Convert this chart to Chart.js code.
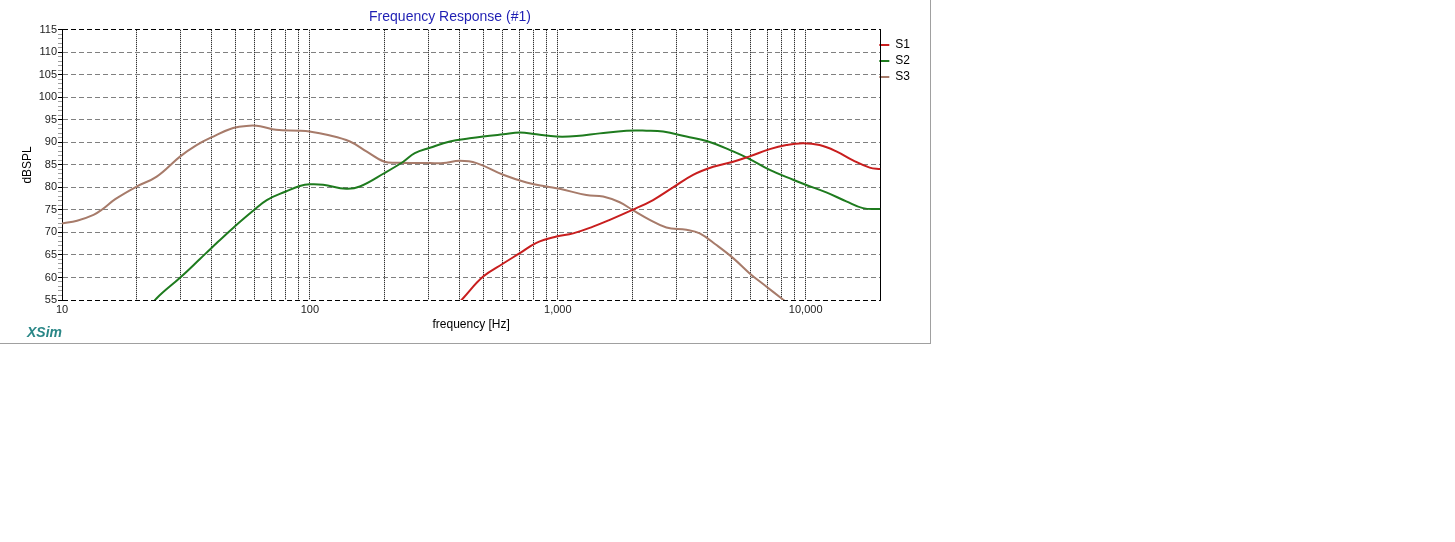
<!DOCTYPE html>
<html>
<head>
<meta charset="utf-8">
<title>Frequency Response (#1)</title>
<script src="https://cdn.jsdelivr.net/npm/chart.js@4.4.1/dist/chart.umd.min.js"></script>
<style>
  body { margin: 0; background: #fff; }
  #frame { position: absolute; left: 0; top: 0; width: 930px; height: 343px;
           border-right: 1px solid #a0a0a0; border-bottom: 1px solid #a0a0a0; }
  #brand { position: absolute; left: 27px; top: 324px; color: #2a8787;
           font: italic bold 14px "Liberation Sans", Arial, sans-serif; }
</style>
</head>
<body>
<div id="frame">
  <canvas id="fr" width="930" height="343"></canvas>
  <div id="brand">XSim</div>
</div>
<script>
// S1 (red)
const s1Freq = [380, 415, 500, 602, 703, 820, 988, 1153, 1387, 1621, 2000, 2423, 2917, 3513, 4237, 5097, 5943, 7161, 8356, 9756, 11370, 13290, 15520, 18120, 20000];
const s1Spl  = [53.1, 55.4, 60.2, 63.1, 65.4, 67.7, 69.1, 69.8, 71.3, 72.8, 75.0, 77.2, 80.0, 82.8, 84.6, 85.7, 86.9, 88.5, 89.4, 89.8, 89.4, 88.0, 86.0, 84.4, 84.1];

// S2 (green)
const s2Freq = [22, 24.1, 30, 36, 40, 49, 59, 67, 80, 91, 100, 113, 140, 159, 200, 238, 265, 305, 367, 441, 500, 602, 703, 820, 988, 1189, 1476, 1892, 2278, 2660, 3303, 3981, 5097, 5943, 7161, 8896, 10000, 12110, 14580, 17010, 20000];
const s2Spl  = [52.6, 55.4, 60.0, 64.1, 66.5, 71.0, 74.8, 77.2, 79.1, 80.3, 80.7, 80.6, 79.7, 80.2, 83.2, 85.7, 87.6, 88.8, 90.2, 90.9, 91.3, 91.8, 92.2, 91.8, 91.3, 91.4, 92.0, 92.6, 92.6, 92.4, 91.3, 90.3, 88.0, 86.3, 83.9, 81.7, 80.6, 78.9, 76.9, 75.4, 75.2];

// S3 (brown)
const s3Freq = [10, 11.5, 13.4, 14.6, 16.4, 20, 24.1, 30, 34.9, 40, 49, 57, 63, 73, 91, 100, 117, 145, 169, 200, 231, 305, 345, 402, 470, 602, 748, 900, 1018, 1305, 1524, 1778, 2000, 2349, 2742, 3303, 3738, 4365, 5097, 5943, 6932, 7975, 9000];
const s3Spl  = [72.0, 72.6, 73.9, 75.2, 77.4, 80.2, 82.4, 86.9, 89.4, 91.1, 93.2, 93.7, 93.6, 92.8, 92.6, 92.4, 91.7, 90.2, 88.0, 85.7, 85.5, 85.4, 85.4, 85.9, 85.4, 82.8, 81.1, 80.2, 79.7, 78.3, 78.0, 76.7, 75.0, 72.8, 71.1, 70.6, 69.8, 67.2, 64.3, 60.9, 58.0, 55.4, 53.1];

// axis ticks
const xDecades = [10, 100, 1000, 10000];
const xMax = 20000;
const yMin = 55, yMax = 115, yLabelStep = 5;

const FONT = '"Liberation Sans", Arial, sans-serif';

// every 1..9 step of each decade gets a dotted line
let xGrid = [];
xDecades.forEach(function (d) {
  for (let m = 1; m <= 9; m++) {
    if (d * m <= xMax) xGrid.push(d * m);
  }
});

function points(fs, vs) {
  return fs.map(function (f, i) { return { x: f, y: vs[i] }; });
}

function series(label, fs, vs, color) {
  return {
    label: label,
    data: points(fs, vs),
    borderColor: color,
    backgroundColor: color,
    borderWidth: 2,
    pointRadius: 0,
    fill: false,
    tension: 0.4,
  };
}

// small layout tweaks: title sits left of canvas centre, legend starts on the frame
const nudge = {
  id: "nudge",
  afterLayout(chart) {
    const t = chart.titleBlock;
    t.right = t.left + 900;
    const lg = chart.legend;
    lg.left = chart.chartArea.right - 5;
    lg.top = 35;
  },
};

new Chart(document.getElementById("fr").getContext("2d"), {
  type: "line",
  data: {
    datasets: [
      series("S1", s1Freq, s1Spl, "#c81e1e"),
      series("S2", s2Freq, s2Spl, "#1e7b1e"),
      series("S3", s3Freq, s3Spl, "#a77b6a"),
    ],
  },
  plugins: [nudge],
  options: {
    responsive: false,
    animation: false,
    layout: { padding: { left: 0, right: 5, top: 0, bottom: 0 } },
    plugins: {
      title: {
        display: true,
        text: "Frequency Response (#1)",
        color: "#1f1fb4",
        font: { family: FONT, size: 14, weight: "normal", lineHeight: 1.2 },
        padding: { top: 9, bottom: 4 },
      },
      legend: {
        display: true,
        position: "right",
        align: "start",
        labels: {
          color: "#000",
          font: { family: FONT, size: 12 },
          boxWidth: 10,
          boxHeight: 2,
          padding: 4,
          generateLabels: function (chart) {
            return Chart.defaults.plugins.legend.labels.generateLabels(chart).map(function (l) {
              l.lineWidth = 0;
              return l;
            });
          },
        },
      },
      tooltip: { enabled: false },
    },
    scales: {
      x: {
        type: "logarithmic",
        min: 10,
        max: xMax,
        afterBuildTicks: function (scale) {
          scale.ticks = xGrid.map(function (v) { return { value: v }; });
        },
        afterFit: function (scale) { scale.height = 43; },
        ticks: {
          autoSkip: false,
          maxRotation: 0,
          padding: 3,
          color: "#222",
          font: { family: FONT, size: 11 },
          callback: function (v) {
            return xDecades.indexOf(v) >= 0 ? v.toLocaleString("en-US") : "";
          },
        },
        grid: { color: "#000", lineWidth: 1, drawTicks: false },
        border: { display: false, dash: [1, 1] },
        title: {
          display: true,
          text: "frequency [Hz]",
          color: "#000",
          font: { family: FONT, size: 12 },
          padding: { top: 0, bottom: 11 },
        },
      },
      y: {
        type: "linear",
        position: "left",
        min: yMin,
        max: yMax,
        afterFit: function (scale) { scale.width = 62; },
        ticks: {
          stepSize: 1,
          autoSkip: false,
          padding: 1,
          color: "#222",
          font: { family: FONT, size: 11 },
          callback: function (v) { return v % yLabelStep === 0 ? v : ""; },
        },
        grid: {
          tickLength: 4,
          tickColor: function (ctx) {
            return ctx.tick.value % yLabelStep === 0 ? "#000" : "#a0a0a0";
          },
          color: function (ctx) {
            const v = ctx.tick.value;
            if (v % yLabelStep !== 0) return "rgba(0,0,0,0)";
            return (v === yMin || v === yMax) ? "#000" : "#808080";
          },
        },
        border: { display: true, color: "#000", width: 1, dash: [5, 3] },
        title: {
          display: true,
          text: "dBSPL",
          color: "#000",
          font: { family: FONT, size: 12 },
          padding: { top: 20, bottom: 0 },
        },
      },
      y2: {
        type: "linear",
        position: "right",
        min: yMin,
        max: yMax,
        afterFit: function (scale) { scale.width = 0; },
        ticks: { display: false },
        grid: { display: false, drawTicks: false },
        border: { display: true, color: "#000", width: 1 },
      },
    },
  },
});
</script>
</body>
</html>
